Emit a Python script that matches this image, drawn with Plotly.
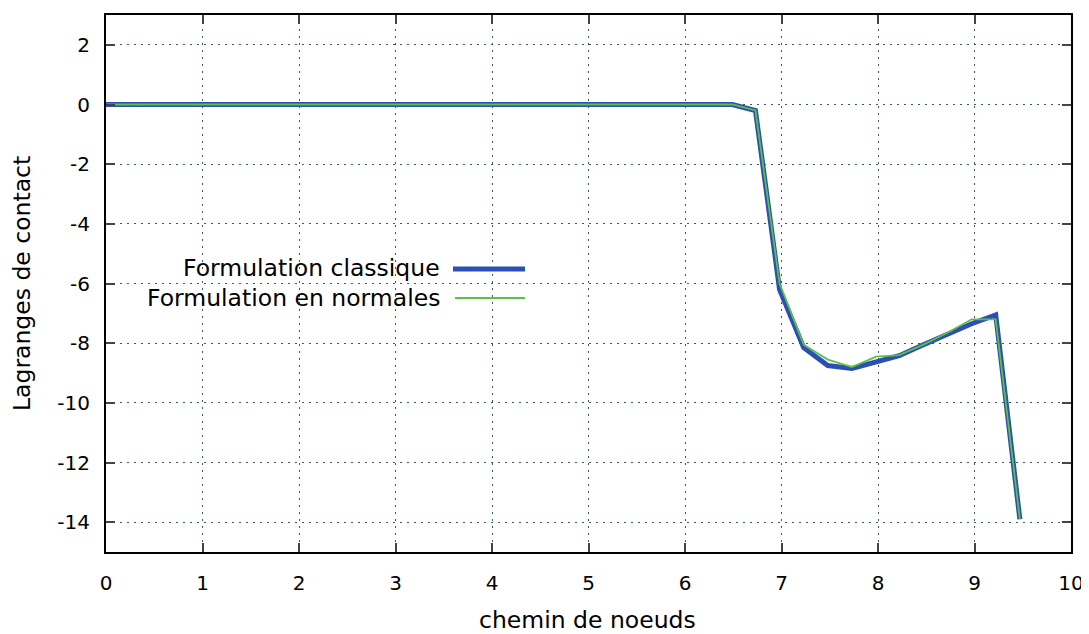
import plotly.graph_objects as go

x_nodes = [0, 0.25, 0.5, 0.75, 1.0, 1.25, 1.5, 1.75, 2.0, 2.25, 2.5, 2.75, 3.0, 3.25, 3.5, 3.75,
           4.0, 4.25, 4.5, 4.75, 5.0, 5.25, 5.5, 5.75, 6.0, 6.25, 6.49, 6.73, 6.98, 7.23, 7.48,
           7.73, 7.98, 8.22, 8.47, 8.72, 8.97, 9.22, 9.47]
y_classique = [0]*26 + [0, -0.2, -6.2, -8.15, -8.75, -8.85, -8.65, -8.42, -8.05, -7.7, -7.35, -7.05, -13.9]
y_normales = [0]*26 + [0, -0.2, -6.0, -8.05, -8.55, -8.8, -8.45, -8.4, -8.05, -7.65, -7.2, -7.2, -13.9]

series_names = ["Formulation classique", "Formulation en normales"]
x_ticks = list(range(0, 11))
y_ticks = list(range(-14, 3, 2))
y_ticktext = [str(v) for v in y_ticks]  # plain hyphen minus

BLUE = "#2c4fb3"
GREEN = "#5cc043"

fig = go.Figure()
fig.add_trace(go.Scatter(x=x_nodes, y=y_classique, mode="lines", name=series_names[0],
                         line=dict(color=BLUE, width=5), showlegend=False))
fig.add_trace(go.Scatter(x=x_nodes, y=y_normales, mode="lines", name=series_names[1],
                         line=dict(color=GREEN, width=1.8), showlegend=False))

font = dict(family="DejaVu Sans", size=20, color="black")
big = dict(family="DejaVu Sans", size=23.5, color="black")

# page is rendered with an 8px body margin; plot area in page pixels: x 106..1071, y 15..552
PW, PH = 965, 537
def px(x):
    return (x - 106) / PW
def py(y):
    return (552 - y) / PH

# legend drawn manually (text right-aligned, sample on the right)
fig.add_annotation(xref="paper", yref="paper", x=px(442), y=py(268), text=series_names[0],
                   showarrow=False, xanchor="right", yanchor="middle", font=big)
fig.add_annotation(xref="paper", yref="paper", x=px(442), y=py(298), text=series_names[1],
                   showarrow=False, xanchor="right", yanchor="middle", font=big)
fig.add_shape(type="line", xref="paper", yref="paper", x0=px(453), x1=px(525),
              y0=py(269), y1=py(269), line=dict(color=BLUE, width=5))
fig.add_shape(type="line", xref="paper", yref="paper", x0=px(455), x1=px(525),
              y0=py(298), y1=py(298), line=dict(color=GREEN, width=1.8))

# axis titles
fig.add_annotation(xref="paper", yref="paper", x=px(587), y=py(620), text="chemin de noeuds",
                   showarrow=False, xanchor="center", yanchor="middle", font=big)
fig.add_annotation(xref="paper", yref="paper", x=px(22), y=py(284), text="Lagranges de contact",
                   showarrow=False, xanchor="center", yanchor="middle", textangle=-90, font=big)

fig.update_layout(
    width=1081, height=626,
    margin=dict(l=98, r=18, t=7, b=82),
    paper_bgcolor="white", plot_bgcolor="white",
    font=font,
)
grid = dict(showgrid=True, gridcolor="#3d5a63", griddash="2px,5px", gridwidth=1)
fig.update_xaxes(range=[0, 10], tickvals=x_ticks, ticks="inside", ticklen=9, tickwidth=2,
                 showline=True, linecolor="black", linewidth=2, mirror="ticks",
                 zeroline=False, automargin=False, ticklabelstandoff=12, tickfont=font, **grid)
fig.update_yaxes(range=[-15, 3], tickvals=y_ticks, ticktext=y_ticktext, ticks="inside", ticklen=9,
                 tickwidth=2, showline=True, linecolor="black", linewidth=2, mirror="ticks",
                 zeroline=False, automargin=False, ticklabelstandoff=10, tickfont=font, **grid)

fig.write_html("out.html")
